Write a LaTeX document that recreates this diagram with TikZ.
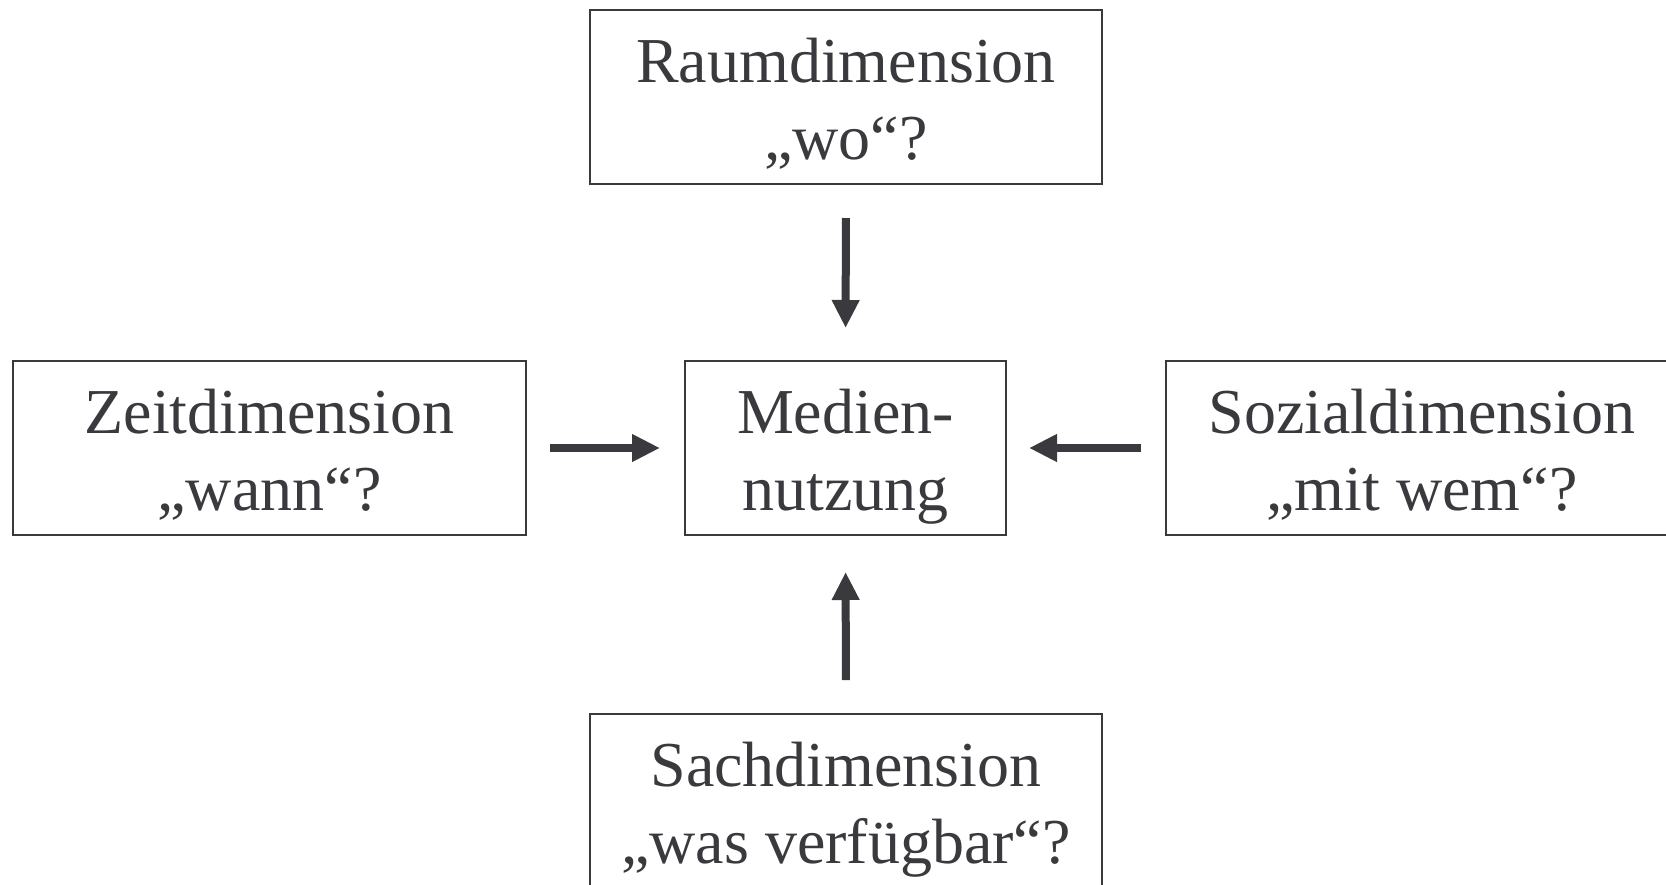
\documentclass[tikz,border=0pt]{standalone}
\usepackage{fontspec}
\setmainfont{Liberation Serif}
\usetikzlibrary{arrows.meta}
\definecolor{ink}{RGB}{58,58,62}
% two centred lines, set a little below the box centre
\newcommand\twolines[2]{\raisebox{-9pt}[\height][\depth]{\begin{tabular}{@{}c@{}}#1\\#2\end{tabular}}}
\begin{document}
\begin{tikzpicture}[x=1pt,y=-1pt,
  box/.style={draw=ink, line width=2pt, text=ink,
    font=\fontsize{64}{77}\selectfont,
    minimum height=174pt, inner sep=0pt},
  arr/.style={draw=ink, line width=8pt,
    -{Triangle[length=28pt,width=26pt]}}]
\useasboundingbox (0,0) rectangle (1666,884);
\clip (0,0) rectangle (1666,884);
\fill[white] (0,0) rectangle (1666,884);

% dimension boxes around the centre
\node[box, minimum width=512pt] (raum)  at (846,97)    {\twolines{Raumdimension}{„wo“?}};
\node[box, minimum width=321pt] (medien) at (845.5,448) {\twolines{Medien-}{nutzung}};
\node[box, minimum width=513pt] (zeit)  at (269.5,448) {\twolines{Zeitdimension}{„wann“?}};
\node[box, minimum width=512pt] (sozial) at (1422,448) {\twolines{Sozialdimension}{„mit wem“?}};
\node[box, minimum width=512pt] (sach)  at (846,801)   {\twolines{Sachdimension}{„was verfügbar“?}};

% influences pointing at media use
\draw[arr, shorten <=33pt, shorten >=32pt] (raum.south) -- (medien.north);
\draw[arr, shorten <=33pt, shorten >=36pt] (sach.north) -- (medien.south);
\draw[arr, shorten <=23pt, shorten >=24pt] (zeit.east) -- (medien.west);
\draw[arr, shorten <=24pt, shorten >=22pt] (sozial.west) -- (medien.east);
\end{tikzpicture}
\end{document}
